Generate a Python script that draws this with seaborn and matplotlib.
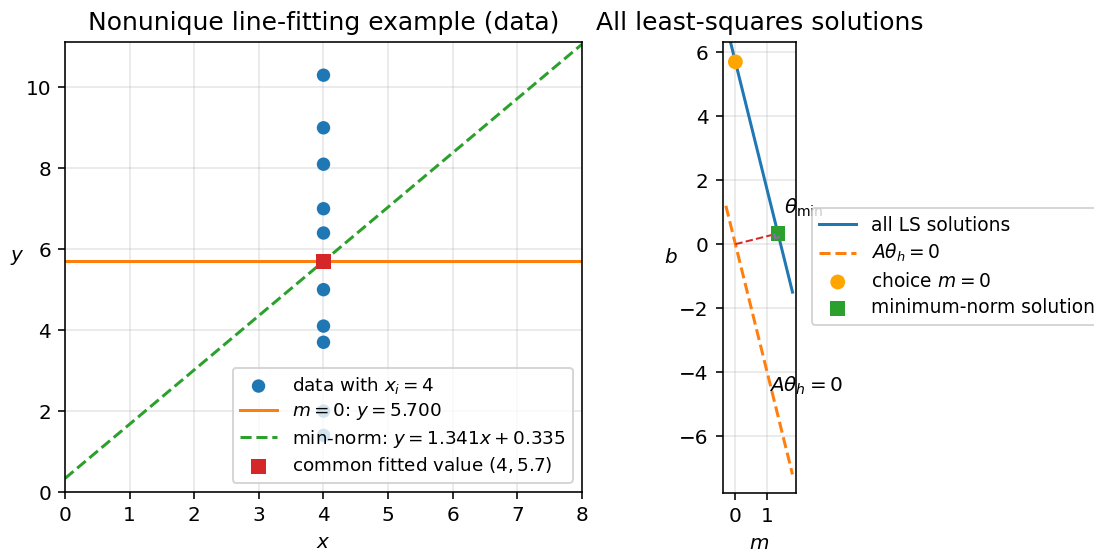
import numpy as np
import matplotlib
matplotlib.use("Agg")
import matplotlib.pyplot as plt
import seaborn as sns

# ---- data ----
x_value = 4
y_data = [10.3, 9.0, 8.1, 7.0, 6.4, 5.0, 4.1, 3.7, 2.0, 1.4]
x_data = [x_value] * len(y_data)
x_line = [0, 8]
m_range = [-0.3, 1.8]

y_mean = float(np.mean(y_data))
# minimum-norm solution of  m*4 + b = mean
a = np.array([x_value, 1.0])
theta_min = y_mean * a / (a @ a)
m_min, b_min = theta_min

plt.rcParams["font.family"] = ["DejaVu Sans"]

fig = plt.figure(figsize=(1094 / 144, 552 / 144), dpi=144)
W, H = 1094, 552
ax1 = fig.add_axes([65 / W, 1 - 492 / H, 517 / W, 450 / H])
ax2 = fig.add_axes([722.7 / W, 1 - 493 / H, 73.3 / W, 451.3 / H])

TITLE_FS = 12.5

# ---- left panel ----
sns.lineplot(x=x_line, y=[y_mean] * 2, ax=ax1, color="tab:orange", lw=1.5,
             label=rf"$m=0$: $y={y_mean:.3f}$", zorder=2)
sns.lineplot(x=x_line, y=[m_min * xv + b_min for xv in x_line], ax=ax1,
             color="tab:green", lw=1.5, linestyle="--",
             label=rf"min-norm: $y={m_min:.3f}x+{b_min:.3f}$", zorder=2)
sns.scatterplot(x=x_data, y=y_data, ax=ax1, color="tab:blue", s=45,
                edgecolor="none", label=r"data with $x_i=4$", zorder=3)
sns.scatterplot(x=[x_value], y=[y_mean], ax=ax1, color="tab:red", marker="s",
                s=55, edgecolor="none",
                label=rf"common fitted value $({x_value}, {y_mean:.1f})$", zorder=4)

h, l = ax1.get_legend_handles_labels()
order = [2, 0, 1, 3]
ax1.legend([h[i] for i in order], [l[i] for i in order], loc="lower right",
           fontsize=9.2, labelspacing=0.3)
ax1.set_xlim(0, 8)
ax1.set_ylim(0, 11.12)
ax1.set_xticks(range(0, 9))
ax1.set_yticks(range(0, 11, 2))
ax1.grid(True, alpha=0.3)
ax1.set_xlabel(r"$x$")
ax1.set_ylabel(r"$y$", rotation=0)
ax1.set_title("Nonunique line-fitting example (data)", fontsize=TITLE_FS)

# ---- right panel ----
sns.lineplot(x=m_range, y=[y_mean - x_value * m for m in m_range], ax=ax2,
             color="tab:blue", lw=1.5, label="all LS solutions", zorder=2)
sns.lineplot(x=m_range, y=[-x_value * m for m in m_range], ax=ax2,
             color="tab:orange", lw=1.5, linestyle="--",
             label=r"$A\theta_h=0$", zorder=2)
ax2.plot([0, m_min], [0, b_min], color="tab:red", lw=1.0, linestyle="--", zorder=3)

# right-angle marker
d1 = -theta_min / np.linalg.norm(theta_min)
d2 = np.array([1.0, -x_value]) / np.hypot(1.0, x_value)
s = 0.12
p1 = theta_min + s * d1
p2 = theta_min + s * d1 + s * d2
p3 = theta_min + s * d2
ax2.plot([p1[0], p2[0], p3[0]], [p1[1], p2[1], p3[1]], color="tab:purple", lw=1.0, zorder=5)

sns.scatterplot(x=[0], y=[y_mean], ax=ax2, color="orange", s=55,
                edgecolor="none", label=r"choice $m=0$", zorder=4)
sns.scatterplot(x=[m_min], y=[b_min], ax=ax2, color="tab:green", marker="s",
                s=55, edgecolor="none", label="minimum-norm solution", zorder=4)

ax2.annotate(r"$\theta_{\min}$", (m_min, b_min), xytext=(3, 10),
             textcoords="offset points")
ax2.text(1.05, -4.43, r"$A\theta_h=0$", va="center", ha="left")

ax2.set_xlim(-0.4, 1.91)
ax2.set_ylim(-7.78, 6.33)
ax2.set_xticks([0, 1])
ax2.set_yticks(range(-6, 7, 2))
ax2.grid(True, alpha=0.3)
ax2.set_xlabel(r"$m$")
ax2.set_ylabel(r"$b$", rotation=0)
ax2.set_title("All least-squares solutions", fontsize=TITLE_FS)
ax2.legend(loc="center left", fontsize=9.3, borderaxespad=0, labelspacing=0.4,
           bbox_to_anchor=(811.7 / W, 1 - 266.5 / H), bbox_transform=fig.transFigure)

fig.savefig("out.png", dpi=144)
